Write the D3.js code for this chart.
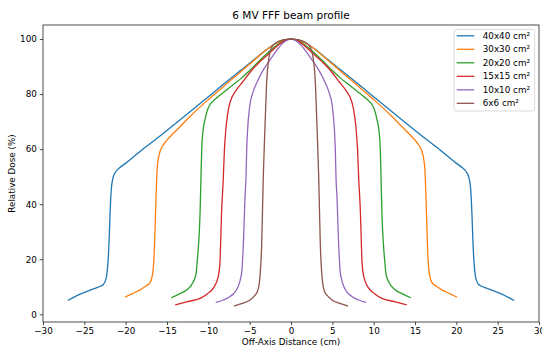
<!DOCTYPE html>
<html>
<head>
<meta charset="utf-8">
<script src="https://cdn.jsdelivr.net/npm/d3@7"></script>
<style>
    body { margin: 0; background: #fff; }
    svg text { font-family: 'DejaVu Sans', sans-serif; }
</style>
</head>
<body>
<div id="chart"></div>
<script>
// Field sizes and their colours (matplotlib tab10 order)
const fieldLabels = ['40x40 cm²', '30x30 cm²', '20x20 cm²', '15x15 cm²', '10x10 cm²', '6x6 cm²'];
const fieldColors = ['#1f77b4', '#ff7f0e', '#2ca02c', '#d62728', '#9467bd', '#8c564b'];

const xTicks = [-30, -25, -20, -15, -10, -5, 0, 5, 10, 15, 20, 25, 30];
const yTicks = [0, 20, 40, 60, 80, 100];

// [off-axis distance (cm), relative dose (%)]
const profile40 = [
    [-27, 5.0], [-25.5, 7.3], [-24.3, 8.8], [-23.3, 9.9], [-22.7, 10.8], [-22.35, 13.2], [-22.15, 18.5],
    [-22.0, 27], [-21.9, 35.5], [-21.75, 45], [-21.55, 49.3], [-21.3, 51.3], [-20.7, 53.3], [-19.9, 55.1],
    [-18, 59.8], [-16, 64.4], [-14, 69.2], [-12, 74.1], [-10, 79.0], [-8, 84.0], [-6, 88.8], [-5, 91.2],
    [-4, 93.7], [-3, 96.1], [-2, 98.2], [-1, 99.5], [0, 100],
    [1, 99.5], [2, 98.2], [3, 96.1], [4, 93.7], [5, 91.2], [6, 88.8], [8, 84.0], [10, 79.0], [12, 74.1],
    [14, 69.2], [16, 64.4], [18, 59.8], [19.9, 55.1], [20.7, 53.3], [21.3, 51.3], [21.55, 49.3], [21.75, 45],
    [21.9, 35.5], [22.0, 27], [22.15, 18.5], [22.35, 13.2], [22.7, 10.8], [23.3, 9.9], [24.3, 8.8],
    [25.5, 7.3], [27, 5.0]
];
const profile30 = [
    [-20.1, 6.2], [-19.2, 7.5], [-18.3, 8.8], [-17.6, 10.2], [-17.05, 11.5], [-16.75, 14.5], [-16.6, 19],
    [-16.5, 26], [-16.4, 35.5], [-16.3, 45], [-16.2, 52.3], [-16.05, 56.5], [-15.8, 59.5], [-15.3, 62.2],
    [-14.6, 64.6], [-14, 66.4], [-12, 72.5], [-10, 78.0], [-8, 83.2], [-6, 88.3], [-5, 90.9], [-4, 93.5],
    [-3, 96.0], [-2, 98.1], [-1, 99.5], [0, 100],
    [1, 99.5], [2, 98.1], [3, 96.0], [4, 93.5], [5, 90.9], [6, 88.3], [8, 83.2], [10, 78.0], [12, 72.5],
    [14, 66.4], [14.6, 64.6], [15.3, 62.2], [15.8, 59.5], [16.05, 56.5], [16.2, 52.3], [16.3, 45],
    [16.4, 35.5], [16.5, 26], [16.6, 19], [16.75, 14.5], [17.05, 11.5], [17.6, 10.2], [18.3, 8.8],
    [19.2, 7.5], [20.1, 6.2]
];
const profile20 = [
    [-14.5, 6.0], [-13.5, 7.4], [-12.6, 8.9], [-11.8, 11.9], [-11.5, 14.5], [-11.35, 19], [-11.2, 24.6],
    [-11.0, 36.7], [-10.9, 48.8], [-10.8, 60], [-10.65, 66.5], [-10.4, 70.7], [-10, 75.0], [-9, 78.6],
    [-8, 81.0], [-7, 83.4], [-6, 85.8], [-5, 88.6], [-4, 91.6], [-3, 94.5], [-2, 97.1], [-1, 99.2], [0, 100],
    [1, 99.2], [2, 97.1], [3, 94.5], [4, 91.6], [5, 88.6], [6, 85.8], [7, 83.4], [8, 81.0], [9, 78.6],
    [10, 75.0], [10.4, 70.7], [10.65, 66.5], [10.8, 60], [10.9, 48.8], [11.0, 36.7], [11.2, 24.6],
    [11.35, 19], [11.5, 14.5], [11.8, 11.9], [12.6, 8.9], [13.5, 7.4], [14.5, 6.0]
];
const profile15 = [
    [-14, 3.4], [-12.5, 4.6], [-11, 5.8], [-10.1, 7.5], [-9.4, 9.5], [-8.8, 13.7], [-8.6, 18.5], [-8.5, 27],
    [-8.4, 36.7], [-8.2, 48.8], [-8.05, 60], [-7.9, 66.5], [-7.7, 72], [-7.4, 76.7], [-6.6, 81.5],
    [-5.8, 84.6], [-4.6, 89.2], [-3.75, 91.8], [-2.5, 95.2], [-1.5, 97.9], [-0.7, 99.5], [0, 100],
    [0.7, 99.5], [1.5, 97.9], [2.5, 95.2], [3.75, 91.8], [4.6, 89.2], [5.8, 84.6], [6.6, 81.5], [7.4, 76.7],
    [7.7, 72], [7.9, 66.5], [8.05, 60], [8.2, 48.8], [8.4, 36.7], [8.5, 27], [8.6, 18.5], [8.8, 13.7],
    [9.4, 9.5], [10.1, 7.5], [11, 5.8], [12.5, 4.6], [14, 3.4]
];
const profile10 = [
    [-9.1, 4.3], [-8.2, 5.2], [-7.4, 6.4], [-6.8, 8.0], [-6.4, 10], [-6.1, 13], [-5.95, 15.5], [-5.85, 20],
    [-5.77, 25], [-5.65, 35], [-5.56, 42.8], [-5.44, 50], [-5.36, 60], [-5.25, 67], [-5.0, 75.5],
    [-4.56, 81], [-4.0, 85], [-3.35, 88.8], [-2.5, 92.6], [-1.73, 95.9], [-1, 98.5], [0, 100],
    [1, 98.5], [1.73, 95.9], [2.5, 92.6], [3.35, 88.8], [4.0, 85], [4.56, 81], [5.0, 75.5], [5.25, 67],
    [5.36, 60], [5.44, 50], [5.56, 42.8], [5.65, 35], [5.77, 25], [5.85, 20], [5.95, 15.5], [6.1, 13],
    [6.4, 10], [6.8, 8.0], [7.4, 6.4], [8.2, 5.2], [9.1, 4.3]
];
const profile6 = [
    [-6.9, 3.0], [-6.0, 3.9], [-4.96, 5.2], [-4.4, 6.8], [-4.07, 8.2], [-3.85, 11], [-3.75, 13.7],
    [-3.62, 20], [-3.55, 25], [-3.43, 40], [-3.35, 50], [-3.22, 62], [-3.1, 72], [-2.95, 84], [-2.75, 91.5],
    [-2.33, 97.0], [-1.7, 98.8], [-1, 99.7], [0, 100],
    [1, 99.7], [1.7, 98.8], [2.33, 97.0], [2.75, 91.5], [2.95, 84], [3.1, 72], [3.22, 62], [3.35, 50],
    [3.43, 40], [3.55, 25], [3.62, 20], [3.75, 13.7], [3.85, 11], [4.07, 8.2], [4.4, 6.8], [4.96, 5.2],
    [6.0, 3.9], [6.9, 3.0]
];

const profiles = [profile40, profile30, profile20, profile15, profile10, profile6];

const width = 542;
const height = 349;
const margin = { top: 25, right: 3, bottom: 27, left: 43 };
const innerW = width - margin.left - margin.right;
const innerH = height - margin.top - margin.bottom;

const svg = d3.select('#chart')
    .append('svg')
    .attr('width', width)
    .attr('height', height);

svg.append('rect')
    .attr('width', width)
    .attr('height', height)
    .attr('fill', '#fff');

const g = svg.append('g')
    .attr('transform', `translate(${margin.left},${margin.top})`);

const xScale = d3.scaleLinear()
    .domain([-30, 30])
    .range([0, innerW]);

const yScale = d3.scaleLinear()
    .domain([-2.8, 105.1])
    .range([innerH, 0]);

g.append('clipPath')
    .attr('id', 'plot-clip')
    .append('rect')
    .attr('width', innerW)
    .attr('height', innerH);

const line = d3.line()
    .x(d => xScale(d[0]))
    .y(d => yScale(d[1]))
    .curve(d3.curveMonotoneX);

const curves = g.append('g').attr('clip-path', 'url(#plot-clip)');

profiles.forEach((p, i) => {
    curves.append('path')
        .datum(p)
        .attr('d', line)
        .attr('fill', 'none')
        .attr('stroke', fieldColors[i])
        .attr('stroke-width', 1.3)
        .attr('stroke-linejoin', 'round');
});

// axes
const fmt = d3.format('d');

const xAxis = g.append('g')
    .attr('transform', `translate(0,${innerH})`)
    .call(d3.axisBottom(xScale).tickValues(xTicks).tickFormat(fmt).tickSize(3.1).tickPadding(3));

const yAxis = g.append('g')
    .call(d3.axisLeft(yScale).tickValues(yTicks).tickFormat(fmt).tickSize(3.1).tickPadding(3));

[xAxis, yAxis].forEach(ax => {
    ax.select('.domain').remove();
    ax.selectAll('.tick line').attr('stroke', '#000').attr('stroke-width', 0.7);
    ax.selectAll('.tick text')
        .style('font-size', '8.8px')
        .style('font-family', 'DejaVu Sans')
        .attr('fill', '#000');
});

// frame
g.append('rect')
    .attr('width', innerW)
    .attr('height', innerH)
    .attr('fill', 'none')
    .attr('stroke', '#000')
    .attr('stroke-width', 0.7);

// labels
svg.append('text')
    .attr('x', margin.left + innerW / 2)
    .attr('y', 18.5)
    .attr('text-anchor', 'middle')
    .style('font-size', '10.5px')
    .text('6 MV FFF beam profile');

svg.append('text')
    .attr('x', margin.left + innerW / 2)
    .attr('y', 345)
    .attr('text-anchor', 'middle')
    .style('font-size', '8.8px')
    .text('Off-Axis Distance (cm)');

svg.append('text')
    .attr('transform', `translate(15,${margin.top + innerH / 2}) rotate(-90)`)
    .attr('text-anchor', 'middle')
    .style('font-size', '8.8px')
    .text('Relative Dose (%)');

// legend
const legend = g.append('g')
    .attr('transform', `translate(${innerW - 85},4.4)`);

legend.append('rect')
    .attr('width', 80.6)
    .attr('height', 81.6)
    .attr('rx', 2.5)
    .attr('fill', 'rgba(255,255,255,0.8)')
    .attr('stroke', '#cccccc')
    .attr('stroke-width', 0.7);

fieldLabels.forEach((label, i) => {
    const y = 6.4 + i * 13.5;
    legend.append('line')
        .attr('x1', 2.7)
        .attr('x2', 20.3)
        .attr('y1', y)
        .attr('y2', y)
        .attr('stroke', fieldColors[i])
        .attr('stroke-width', 1.3);
    legend.append('text')
        .attr('x', 28.7)
        .attr('y', y + 3.2)
        .style('font-size', '8.8px')
        .text(label);
});
</script>
</body>
</html>
